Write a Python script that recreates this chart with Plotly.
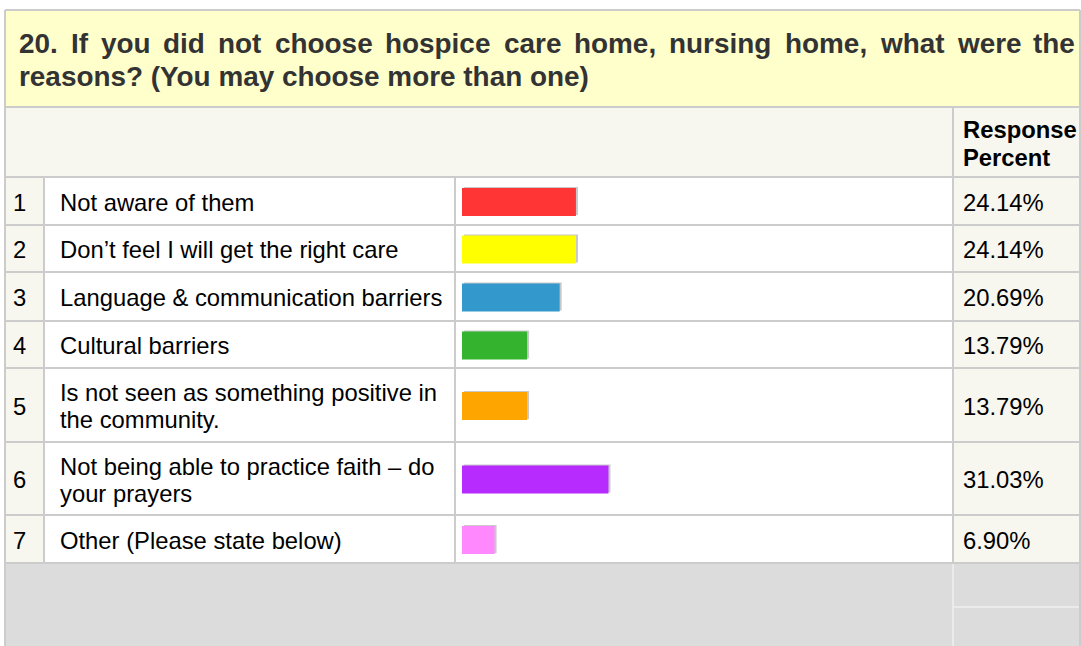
import plotly.graph_objects as go

# ---- data ----
row_numbers = ["1", "2", "3", "4", "5", "6", "7"]
reasons = [
    "Not aware of them",
    "Don\u2019t feel I will get the right care",
    "Language & communication barriers",
    "Cultural barriers",
    "Is not seen as something positive in\nthe community.",
    "Not being able to practice faith \u2013 do\nyour prayers",
    "Other (Please state below)",
]
response_percent = [24.14, 24.14, 20.69, 13.79, 13.79, 31.03, 6.90]
bar_colors = ["#FF3535", "#FFFF00", "#3399CC", "#33B32E", "#FFA500", "#B72BFF", "#FF88FF"]
percent_labels = [f"{v:.2f}%" for v in response_percent]

title_lines = [
    "20. If you did not choose hospice care home, nursing home, what were the",
    "reasons? (You may choose more than one)",
]
header_label = ["Response", "Percent"]

# ---- page geometry (pixels) ----
W, H = 1081, 646
col_x = [5, 44, 455, 953, 1080]          # table column borders
title_top, title_bottom = 10, 107
header_bottom = 177
row_edges = [177, 225, 272, 321, 368, 442, 515, 563]
footer_mid = 607
bar_left = 462                            # pixel where 0% sits
px_per_pct = 4.72
bar_thickness = 28

GRID = "#CCCCCC"
CELL_TINT = "#F7F6EF"
FONT = "Arial, Liberation Sans, sans-serif"
BODY_SIZE = 23.8
TITLE_SIZE = 27.9
LINE_GAP = 27

# Helvetica-Bold advance widths (1/1000 em) for justifying the title
HB = {
    " ": 278, ".": 278, ",": 278, "?": 611, "(": 333, ")": 333,
    "0": 556, "1": 556, "2": 556, "3": 556, "4": 556, "5": 556,
    "6": 556, "7": 556, "8": 556, "9": 556,
    "I": 278, "Y": 667,
    "a": 556, "b": 611, "c": 556, "d": 611, "e": 556, "f": 333, "g": 611,
    "h": 611, "i": 278, "j": 278, "k": 556, "l": 278, "m": 889, "n": 611,
    "o": 611, "p": 611, "q": 611, "r": 389, "s": 556, "t": 333, "u": 611,
    "v": 556, "w": 778, "x": 556, "y": 556, "z": 500,
}


def word_width(word, size):
    return sum(HB.get(ch, 556) for ch in word) * size / 1000.0


shapes = []


def rect(x0, y0, x1, y1, fill, line=None, lw=0):
    shapes.append(dict(type="rect", xref="x", yref="y", x0=x0, y0=y0, x1=x1, y1=y1,
                       fillcolor=fill, line=dict(width=lw, color=line or fill),
                       layer="below"))


def hline(x0, x1, y, color=GRID, lw=2):
    shapes.append(dict(type="line", xref="x", yref="y", x0=x0, x1=x1, y0=y, y1=y,
                       line=dict(color=color, width=lw), layer="below"))


def vline(x, y0, y1, color=GRID, lw=2):
    shapes.append(dict(type="line", xref="x", yref="y", x0=x, x1=x, y0=y0, y1=y1,
                       line=dict(color=color, width=lw), layer="below"))


# backgrounds
rect(col_x[0], title_top, col_x[-1], title_bottom, "#FFFFCC")
rect(col_x[0], title_bottom, col_x[-1], header_bottom, "#F7F7F0")
rect(col_x[0], row_edges[0], col_x[1], row_edges[-1], CELL_TINT)
rect(col_x[1], row_edges[0], col_x[3], row_edges[-1], "#FFFFFF")
rect(col_x[3], row_edges[0], col_x[4], row_edges[-1], CELL_TINT)
rect(col_x[0], row_edges[-1], col_x[-1], H, "#DCDCDC")

# footer lines
vline(col_x[3], row_edges[-1], H, color="#EBEBEB", lw=2)
hline(col_x[3], col_x[4], footer_mid, color="#EBEBEB", lw=2)

# grid
hline(col_x[0], col_x[-1], title_top)
hline(col_x[0], col_x[-1], title_bottom)
for y in row_edges:
    hline(col_x[0], col_x[-1], y)
vline(col_x[0], title_top, H)
vline(col_x[-1], title_top, H)
vline(col_x[3], title_bottom, row_edges[-1])
for x in col_x[1:3]:
    vline(x, row_edges[0], row_edges[-1])

row_centers = [(a + b) / 2 for a, b in zip(row_edges[:-1], row_edges[1:])]

annotations = []


def text(x, y, s, size=BODY_SIZE, bold=False, color="#000000"):
    annotations.append(dict(
        xref="x", yref="y", x=x, y=y, text=f"<b>{s}</b>" if bold else s,
        showarrow=False, xanchor="left", yanchor="middle",
        font=dict(family=FONT, size=size, color=color),
    ))


# title: first line justified across the box, second line left aligned
t_left, t_right = 19, 1075
words = title_lines[0].split(" ")
widths = [word_width(w, TITLE_SIZE) for w in words]
gap = (t_right - t_left - sum(widths)) / (len(words) - 1)
xpos = t_left
for w, wd in zip(words, widths):
    text(xpos - 2, 43, w, size=TITLE_SIZE, bold=True, color="#333333")
    xpos += wd + gap
text(t_left - 2, 76, title_lines[1], size=TITLE_SIZE, bold=True, color="#333333")

# header
text(961, 129, header_label[0], bold=True)
text(961, 157, header_label[1], bold=True)

# rows
for num, label, pct, yc in zip(row_numbers, reasons, percent_labels, row_centers):
    text(11, yc + 1, num)
    lines = label.split("\n")
    first = yc + 1 - LINE_GAP * (len(lines) - 1) / 2
    for i, ln in enumerate(lines):
        text(58, first + i * LINE_GAP, ln)
    text(961, yc + 1, pct)

# bars: grey shadow slightly up-right, coloured bar on top
shift = 2 / px_per_pct
fig = go.Figure()
fig.add_trace(go.Bar(
    x=response_percent, y=[c for c in row_centers], base=shift, orientation="h",
    width=bar_thickness, marker=dict(color="#C8C8C8", line=dict(width=0)),
    xaxis="x2", yaxis="y", hoverinfo="skip", showlegend=False,
))
fig.add_trace(go.Bar(
    x=response_percent, y=[c + 1 for c in row_centers], base=0, orientation="h",
    width=bar_thickness, marker=dict(color=bar_colors, line=dict(width=0)),
    xaxis="x2", yaxis="y", showlegend=False,
))

fig.update_layout(
    width=W, height=H,
    margin=dict(l=0, r=0, t=0, b=0),
    paper_bgcolor="#FFFFFF", plot_bgcolor="#FFFFFF",
    barmode="overlay",
    xaxis=dict(range=[0, W], visible=False, domain=[0, 1], fixedrange=True),
    xaxis2=dict(range=[-bar_left / px_per_pct, (W - bar_left) / px_per_pct],
                overlaying="x", anchor="y", visible=False, domain=[0, 1], fixedrange=True),
    yaxis=dict(range=[H, 0], visible=False, fixedrange=True),
    shapes=shapes,
    annotations=annotations,
)

fig.write_html("out.html")
